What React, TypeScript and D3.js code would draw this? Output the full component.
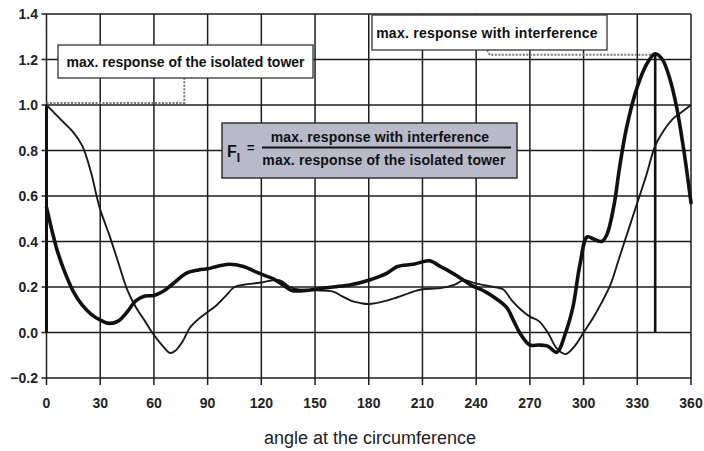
import React from "react";
import * as d3 from "d3";

// Angle around the circumference (degrees) and response ratios
const isoAngles = [0, 5, 10, 15, 20, 25, 28, 30, 35, 40, 45, 50, 55, 59, 65, 69, 72, 76, 80, 85, 90, 95, 100, 105, 110, 115, 120, 130, 136, 140, 150, 160, 165, 170, 175, 180, 190, 196, 205, 210, 220, 228, 233, 240, 250, 255, 260, 265, 270, 275, 280, 285, 290, 295, 300, 305, 310, 315, 320, 325, 330, 335, 340, 345, 350, 355, 360];
const isoValues = [1.0, 0.96, 0.92, 0.88, 0.82, 0.7, 0.6, 0.54, 0.43, 0.31, 0.19, 0.11, 0.05, 0.0, -0.06, -0.09, -0.08, -0.04, 0.02, 0.06, 0.09, 0.12, 0.16, 0.2, 0.21, 0.215, 0.22, 0.23, 0.2, 0.19, 0.185, 0.18, 0.16, 0.14, 0.13, 0.125, 0.14, 0.155, 0.18, 0.19, 0.195, 0.21, 0.23, 0.215, 0.2, 0.19, 0.14, 0.1, 0.07, 0.05, 0.0, -0.07, -0.095, -0.06, 0.0, 0.06, 0.13, 0.21, 0.33, 0.45, 0.57, 0.69, 0.82, 0.89, 0.94, 0.97, 1.0];

const intAngles = [0, 3, 6, 10, 15, 20, 25, 30, 35, 40, 45, 50, 55, 60, 65, 70, 78, 85, 90, 95, 102, 110, 116, 122, 127, 132, 137, 145, 150, 160, 170, 180, 190, 196, 205, 214, 220, 227, 233, 238, 245, 250, 257, 261, 265, 270, 275, 280, 285, 290, 294, 298, 302, 306, 310, 313, 317, 320, 324, 330, 336, 340, 344, 348, 352, 356, 360];
const intValues = [0.55, 0.45, 0.36, 0.27, 0.18, 0.12, 0.08, 0.055, 0.04, 0.05, 0.09, 0.14, 0.16, 0.163, 0.18, 0.21, 0.26, 0.275, 0.28, 0.29, 0.3, 0.29, 0.27, 0.25, 0.235, 0.21, 0.185, 0.185, 0.19, 0.2, 0.21, 0.23, 0.26, 0.29, 0.3, 0.315, 0.29, 0.26, 0.23, 0.205, 0.18, 0.155, 0.11, 0.05, -0.01, -0.055, -0.055, -0.06, -0.087, 0.0, 0.11, 0.3, 0.42, 0.41, 0.4, 0.43, 0.56, 0.72, 0.9, 1.08, 1.19, 1.225, 1.2, 1.12, 0.99, 0.8, 0.57];

const xTicks = [0, 30, 60, 90, 120, 150, 180, 210, 240, 270, 300, 330, 360];
const yTicks = [-0.2, 0.0, 0.2, 0.4, 0.6, 0.8, 1.0, 1.2, 1.4];

const isoMaxAngle = 0;
const isoMax = 1.0;
const intMaxAngle = 340;
const intMax = 1.225;

const xTitle = "angle at the circumference";
const isoLabel = "max. response of the isolated tower";
const intLabel = "max. response with interference";

export default function App() {
  const W = 704;
  const H = 451;
  const x = d3.scaleLinear().domain([0, 360]).range([46.5, 691]);
  const y = d3.scaleLinear().domain([-0.2, 1.4]).range([378, 14]);

  const line = d3
    .line<[number, number]>()
    .x((d) => x(d[0]))
    .y((d) => y(d[1]))
    .curve(d3.curveCatmullRom.alpha(0.5));

  const isoPath = line(isoAngles.map((a, i) => [a, isoValues[i]]) as [number, number][]) || "";
  const intPath = line(intAngles.map((a, i) => [a, intValues[i]]) as [number, number][]) || "";

  const grid = "#1c1c1c";
  const font = "'Liberation Sans', Arial, Helvetica, sans-serif";
  const boxFont = 14;

  return (
    <svg
      width={W}
      height={H}
      style={{ position: "absolute", left: 0, top: 0, background: "#fff" }}
      fontFamily={font}
    >
      <rect x={0} y={0} width={W} height={H} fill="#fff" />
      {/* grid */}
      {yTicks.map((t) => (
        <line key={"h" + t} x1={x(0) - 5} x2={x(360)} y1={y(t)} y2={y(t)} stroke={grid} strokeWidth={1.5} />
      ))}
      {xTicks.map((t) => (
        <line key={"v" + t} x1={x(t)} x2={x(t)} y1={y(1.4)} y2={y(-0.2) + 7} stroke={grid} strokeWidth={1.5} />
      ))}
      {/* tick labels */}
      {yTicks.map((t) => (
        <text key={"yl" + t} x={38} y={y(t) + 5} textAnchor="end" fontSize={14} fontWeight="bold" fill="#222">
          {d3.format(".1f")(t)}
        </text>
      ))}
      {xTicks.map((t) => (
        <text key={"xl" + t} x={x(t)} y={408} textAnchor="middle" fontSize={14} fontWeight="bold" fill="#222">
          {t}
        </text>
      ))}
      <text x={370} y={444} textAnchor="middle" fontSize={18} fill="#222">
        {xTitle}
      </text>

      {/* dotted leaders */}
      <path
        d={`M${x(isoMaxAngle)},${y(isoMax) - 2}H${x(77)}V78`}
        fill="none"
        stroke="#777"
        strokeWidth={2}
        strokeDasharray="2,1.5"
      />
      <path
        d={`M487,50L490,${y(intMax) + 1}H${x(intMaxAngle) - 2}`}
        fill="none"
        stroke="#777"
        strokeWidth={2}
        strokeDasharray="2,1.5"
      />

      {/* maximum markers */}
      <line x1={x(isoMaxAngle)} x2={x(isoMaxAngle)} y1={y(0)} y2={y(isoMax)} stroke="#111" strokeWidth={3} />
      <line x1={x(intMaxAngle)} x2={x(intMaxAngle)} y1={y(0)} y2={y(intMax)} stroke="#111" strokeWidth={2.6} />

      {/* response curves */}
      <path d={isoPath} fill="none" stroke="#1a1a1a" strokeWidth={1.9} strokeLinejoin="round" />
      <path d={intPath} fill="none" stroke="#111" strokeWidth={3.6} strokeLinejoin="round" strokeLinecap="round" />

      {/* annotation boxes */}
      <rect x={58} y={45} width={255} height={33} fill="#fff" stroke="#333" strokeWidth={1.3} />
      <text x={185.5} y={66.5} textAnchor="middle" fontSize={boxFont} fontWeight="bold" fill="#111">
        {isoLabel}
      </text>
      <rect x={372} y={15} width={235} height={35} fill="#fff" stroke="#333" strokeWidth={1.3} />
      <text x={487} y={37.5} textAnchor="middle" fontSize={boxFont} fontWeight="bold" letterSpacing={0.25} fill="#111">
        {intLabel}
      </text>

      <rect x={222} y={123} width={295} height={55} fill="#b8bac9" stroke="#333" strokeWidth={1.5} />
      <text x={227} y={157} fontSize={16} fontWeight="bold" fill="#111">
        F
        <tspan fontSize={12} dy={5}>I</tspan>
      </text>
      <text x={247} y={152} fontSize={13} fontWeight="bold" fill="#111">
        =
      </text>
      <line x1={262} x2={511} y1={147.5} y2={147.5} stroke="#111" strokeWidth={1.8} />
      <text x={380} y={141.5} textAnchor="middle" fontSize={boxFont} fontWeight="bold" letterSpacing={0.15} fill="#111">
        {intLabel}
      </text>
      <text x={384} y={165} textAnchor="middle" fontSize={boxFont} fontWeight="bold" letterSpacing={0.15} fill="#111">
        {isoLabel}
      </text>
    </svg>
  );
}
